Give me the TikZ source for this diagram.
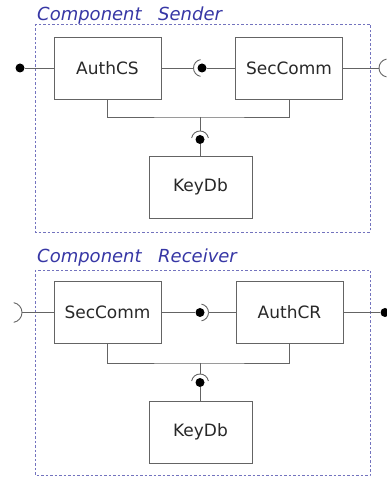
\documentclass[tikz,border=0pt]{standalone}
\usepackage{fontspec}
\setmainfont{DejaVu Sans}
\usetikzlibrary{calc}
\definecolor{wirec}{RGB}{100,100,100}
\definecolor{framec}{RGB}{115,115,190}
\definecolor{titlec}{RGB}{55,55,165}
\definecolor{textc}{RGB}{40,40,40}
\tikzset{
  part/.style={draw=wirec, line width=0.9pt, minimum width=107pt, minimum height=62pt,
    inner sep=0pt, font=\fontsize{17}{19}\selectfont, text=textc},
  wire/.style={draw=wirec, line width=0.9pt},
  ball/.style={circle, fill=black, inner sep=0pt, minimum size=9pt},
  frame/.style={draw=framec, line width=0.9pt, dash pattern=on 2.5pt off 2pt},
  title/.style={anchor=base west, inner sep=0pt, text=titlec,
    font=\fontsize{18}{20}\selectfont\itshape}
}
\begin{document}
\begin{tikzpicture}[x=1pt,y=1pt]
\useasboundingbox (0,0) rectangle (387,477);

% ---------- Component Sender ----------
\draw[frame] (35,453) rectangle (370,245);
\node[title] (tS) at (37,456) {Component\hspace{0.6em} Sender};

\node[part] (acs) at (107.5,409) {AuthCS};
\node[part] (scs) at (289,409) {SecComm};
\node[part, minimum width=103pt] (kds) at (200.5,290) {KeyDb};

% provided port on the left
\node[ball] (pL) at (20,409) {};
\draw[wire] (pL) -- (acs.west);

% AuthCS requires what SecComm provides
\node[ball] (pM) at (202,409) {};
\coordinate (rM) at (193.5,409);
\draw[wire] (acs.east) -- (rM);
\draw[wire] (rM) arc[start angle=180, end angle=100, radius=8.5];
\draw[wire] (rM) arc[start angle=180, end angle=260, radius=8.5];
\draw[wire] (pM) -- (scs.west);

% required port on the right
\coordinate (rR) at (379,409);
\draw[wire] (scs.east) -- (rR);
\draw[wire] (rR) arc[start angle=180, end angle=100, radius=9];
\draw[wire] (rR) arc[start angle=180, end angle=260, radius=9];

% shared link to the key database
\coordinate (jS) at (200,360);
\draw[wire] (acs.south) |- (jS) -| (scs.south);
\coordinate (rS) at (200,346);
\node[ball] (pS) at (200,337.5) {};
\draw[wire] (jS) -- (rS);
\draw[wire] (rS) arc[start angle=90, end angle=10, radius=8.5];
\draw[wire] (rS) arc[start angle=90, end angle=170, radius=8.5];
\draw[wire] (pS) -- (pS |- kds.north);

% ---------- Component Receiver ----------
\draw[frame] (35,207) rectangle (370,1.5);
\node[title] (tR) at (37,214) {Component\hspace{0.6em} Receiver};

\node[part] (scr) at (107.5,164.5) {SecComm};
\node[part] (acr) at (289.5,164.5) {AuthCR};
\node[part, minimum width=103pt] (kdr) at (200.5,45) {KeyDb};

% required port on the left
\coordinate (rL2) at (22,164.5);
\draw[wire] (rL2) -- (scr.west);
\draw[wire] (rL2) arc[start angle=0, end angle=80, radius=10];
\draw[wire] (rL2) arc[start angle=0, end angle=-80, radius=10];

% SecComm provides what AuthCR requires
\node[ball] (pM2) at (200,164.5) {};
\coordinate (rM2) at (208.5,164.5);
\draw[wire] (scr.east) -- (pM2);
\draw[wire] (rM2) arc[start angle=0, end angle=80, radius=8.5];
\draw[wire] (rM2) arc[start angle=0, end angle=-80, radius=8.5];
\draw[wire] (rM2) -- (acr.west);

% provided port on the right
\node[ball] (pR2) at (385,164.5) {};
\draw[wire] (acr.east) -- (pR2);

% shared link to the key database
\coordinate (jR) at (200,114);
\draw[wire] (scr.south) |- (jR) -| (acr.south);
\coordinate (rS2) at (200,103);
\node[ball] (pS2) at (200,94.5) {};
\draw[wire] (jR) -- (rS2);
\draw[wire] (rS2) arc[start angle=90, end angle=10, radius=8.5];
\draw[wire] (rS2) arc[start angle=90, end angle=170, radius=8.5];
\draw[wire] (pS2) -- (pS2 |- kdr.north);
\end{tikzpicture}
\end{document}
